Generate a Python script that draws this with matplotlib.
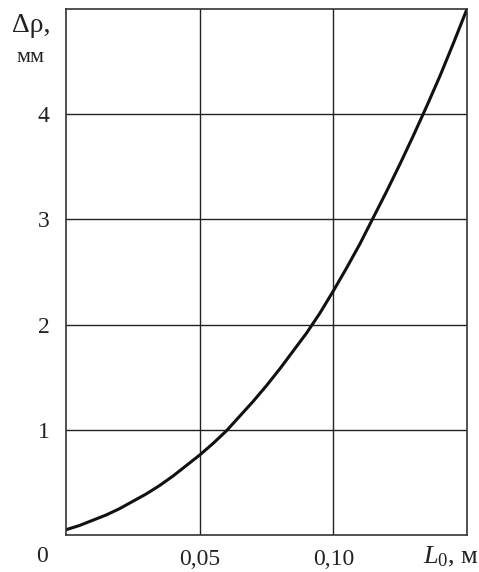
import numpy as np
import matplotlib.pyplot as plt

plt.rcParams["font.family"] = ["Liberation Serif", "DejaVu Serif"]
plt.rcParams["mathtext.fontset"] = "custom"
plt.rcParams["mathtext.rm"] = "Liberation Serif"
plt.rcParams["mathtext.it"] = "Liberation Serif:italic"

# curve readings: L0 (m) vs delta rho (mm)
L0 = [0.000, 0.005, 0.010, 0.015, 0.020, 0.025, 0.030, 0.035, 0.040,
      0.045, 0.050, 0.055, 0.060, 0.065, 0.070, 0.075, 0.080, 0.085,
      0.090, 0.095, 0.100, 0.105, 0.110, 0.115, 0.120, 0.125, 0.130,
      0.135, 0.140, 0.145, 0.150]
drho = [0.05, 0.09, 0.14, 0.19, 0.25, 0.32, 0.39, 0.47, 0.56,
        0.66, 0.76, 0.87, 0.99, 1.13, 1.27, 1.42, 1.58, 1.75,
        1.92, 2.11, 2.32, 2.54, 2.77, 3.02, 3.27, 3.53, 3.80,
        4.08, 4.37, 4.68, 5.00]

xticks = [0.05, 0.10]
xticklabels = ["0,05", "0,10"]
yticks = [1, 2, 3, 4]

fig = plt.figure(figsize=(4.79, 5.72), dpi=100)
ax = fig.add_axes([66 / 479, 37 / 572, 401 / 479, 526 / 572])

ax.plot(L0, drho, color="#111111", lw=2.2, solid_capstyle="round")

ax.set_xlim(0, 0.15)
ax.set_ylim(0, 5)
ax.set_xticks(xticks)
ax.set_xticklabels(xticklabels)
ax.set_yticks(yticks)
ax.grid(True, color="#222222", lw=1.0)
ax.tick_params(length=0, labelsize=17, pad=10, colors="#222222")
ax.tick_params(axis="y", pad=12)
for s in ax.spines.values():
    s.set_linewidth(1.2)
    s.set_color("#333333")

fig.text(42 / 479, 1 - 556 / 572, "0", fontsize=17, ha="center", va="center",
         color="#222222")
fig.text(479 / 479, 1 - 557 / 572, r"$L_\mathregular{0}$, м", fontsize=19,
         ha="right", va="center", color="#222222")
fig.text(31 / 479, 1 - 26 / 572, "Δρ,", fontsize=20, ha="center", va="center",
         color="#222222")
fig.text(31 / 479, 1 - 58 / 572, "мм", fontsize=16, ha="center", va="center",
         color="#222222")

fig.savefig("out.png", dpi=100)
